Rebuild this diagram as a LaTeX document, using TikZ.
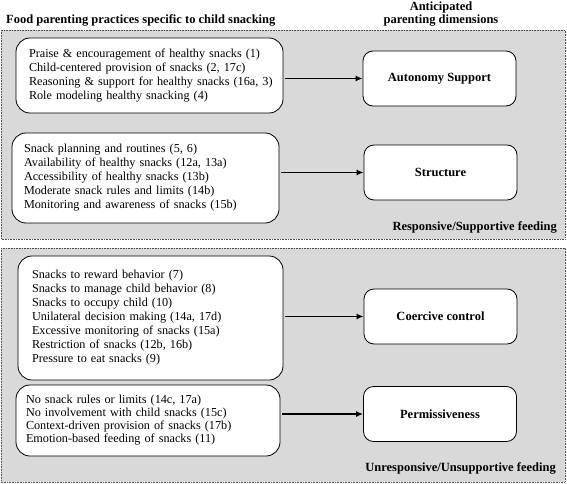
\documentclass[tikz,border=0pt]{standalone}
\usepackage{fontspec}
\setmainfont{Liberation Serif}
\usetikzlibrary{arrows.meta}
\definecolor{panelgray}{HTML}{D9D9D9}
\newcommand{\boxlines}[1]{\begin{tabular}{@{}l@{}}#1\end{tabular}}
\begin{document}
\begin{tikzpicture}[x=1pt,y=-1pt,
  every node/.style={font=\fontsize{12.2}{14}\selectfont},
  panel/.style={fill=panelgray, draw=black!70, line width=0.6pt, densely dotted},
  lbox/.style={draw, fill=white, rounded corners=14pt, line width=0.8pt, align=left, inner xsep=13pt, inner ysep=0pt},
  rbox/.style={draw, fill=white, rounded corners=10pt, line width=0.8pt, align=center, font=\fontsize{12.5}{14}\selectfont\bfseries, minimum width=153pt, minimum height=55pt},
  arr/.style={-{Latex[length=7pt,width=6pt]}, line width=1.4pt, shorten <=2pt},
  lbl/.style={font=\fontsize{12.5}{13.5}\selectfont\bfseries, inner sep=0pt}
]
\useasboundingbox (0,0) rectangle (567,484);
\fill[white] (0,0) rectangle (567,484);
\path[panel] (1,30) rectangle (565,239);
\path[panel] (1,248) rectangle (565,482);

\node[lbl, anchor=west] (title) at (6,20) {Food parenting practices specific to child snacking};
\node[lbl, align=center] (dims) at (441,14) {Anticipated\\parenting dimensions};

\node[lbox, minimum width=267pt, minimum height=75pt, text width=241pt] (b1) at (149.5,75.5)
 {\boxlines{Praise \& encouragement of healthy snacks (1)\\Child-centered provision of snacks (2, 17c)\\Reasoning \& support for healthy snacks (16a, 3)\\Role modeling healthy snacking (4)}};
\node[lbox, minimum width=267pt, minimum height=90pt, text width=243pt, inner xsep=12pt] (b2) at (145.5,178)
 {\boxlines{Snack planning and routines (5, 6)\\Availability of healthy snacks (12a, 13a)\\Accessibility of healthy snacks (13b)\\Moderate snack rules and limits (14b)\\Monitoring and awareness of snacks (15b)}};
\node[lbox, minimum width=265pt, minimum height=124pt, text width=237pt, inner xsep=14pt] (b3) at (150.5,318)
 {\boxlines{Snacks to reward behavior (7)\\Snacks to manage child behavior (8)\\Snacks to occupy child (10)\\Unilateral decision making (14a, 17d)\\Excessive monitoring of snacks (15a)\\Restriction of snacks (12b, 16b)\\Pressure to eat snacks (9)}};
\node[lbox, minimum width=264pt, minimum height=71pt, text width=244pt, inner xsep=10pt,
      font=\fontsize{12.2}{13.2}\selectfont] (b4) at (148,420.5)
 {\boxlines{No snack rules or limits (14c, 17a)\\No involvement with child snacks (15c)\\Context-driven provision of snacks (17b)\\Emotion-based feeding of snacks (11)}};

\node[rbox] (auto) at (439.5,78.5) {Autonomy Support};
\node[rbox] (struct) at (440.5,172.5) {Structure};
\node[rbox] (coer) at (440.5,316.5) {Coercive control};
\node[rbox] (perm) at (440,414) {Permissiveness};

\node[lbl, anchor=east] (resp) at (557,227) {Responsive/Supportive feeding};
\node[lbl, anchor=east] (unresp) at (556,468) {Unresponsive/Unsupportive feeding};

\draw[arr] (b1.east |- auto.west) -- (auto.west);
\draw[arr] (b2.east |- struct.west) -- (struct.west);
\draw[arr] (b3.east |- coer.west) -- (coer.west);
\draw[arr] (b4.east |- perm.west) -- (perm.west);
\end{tikzpicture}
\end{document}
